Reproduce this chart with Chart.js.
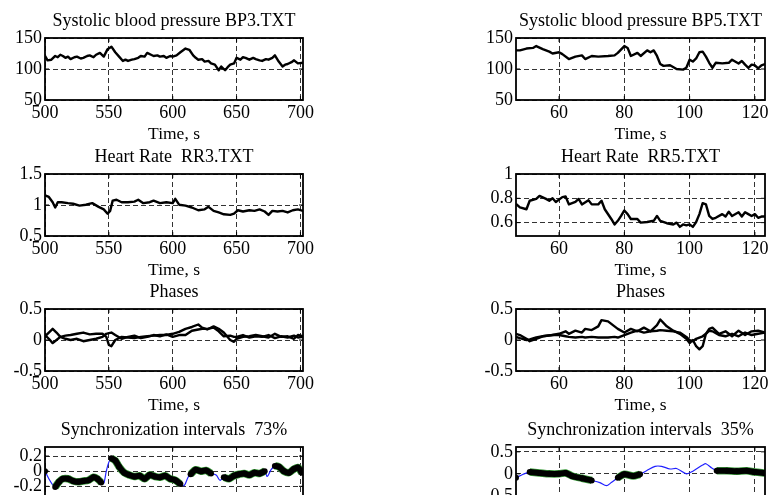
<!DOCTYPE html>
<html lang="en">
<head>
<meta charset="UTF-8">
<title>Blood pressure and heart rate synchronization</title>
<style>
  html, body { margin: 0; padding: 0; background: #fff; }
  body { width: 769px; height: 495px; overflow: hidden; position: relative; }
  canvas { position: absolute; }
</style>
</head>
<body>
<canvas id="bp3"></canvas>
<canvas id="bp5"></canvas>
<canvas id="rr3"></canvas>
<canvas id="rr5"></canvas>
<canvas id="ph3"></canvas>
<canvas id="ph5"></canvas>
<canvas id="sy3"></canvas>
<canvas id="sy5"></canvas>

<script src="https://cdn.jsdelivr.net/npm/chart.js"></script>
<script>
// ---------- data ----------
const leftTicksX = [500, 550, 600, 650, 700]
const rightTicksX = [60, 80, 100, 120]

// BP3.TXT
const bp3Time = [500,502,505,508,510,512,514,516,518,520,523,525,528,530,533,535,538,540,543,546,549,552,555,558,561,563,565,568,570,573,575,578,580,583,585,588,590,593,595,598,600,603,606,610,613,616,618,620,623,625,628,630,633,636,638,641,643,645,648,650,653,655,657,660,663,665,668,670,673,675,678,680,683,686,688,690,693,695,698,702]
const bp3Value = [121,114,115,121,119,123,121,118,120,116,119,120,117,118,121,122,119,123,126,120,132,136,127,120,113,115,113,115,116,118,121,120,126,123,121,122,120,121,118,121,120,122,127,133,131,122,118,115,116,112,113,109,107,98,104,98,103,107,109,118,115,119,118,115,118,116,114,113,116,115,118,122,112,104,107,108,111,114,109,110]

// BP5.TXT
const bp5Time = [46.8,48,50,52,53,55,57,58,60,61,63,65,67,68,70,72,75,77,78,80,81,82,84,85,87,88,89,90,91,92,94,96,98,99,100,101,102,103,104,105,106,107,108,110,112,113,115,116,117,118,119,120,121,122,123.1]
const bp5Value = [130,130,133,134,137,132,128,125,127,124,116,120,122,116,121,120,121,122,126,137,134,121,126,121,130,127,130,121,108,105,106,100,99,102,115,112,117,127,128,120,110,102,110,109,110,115,109,113,107,102,107,106,101,106,108]

// RR3.TXT
const rr3Time = [500,503,506,508,510,513,518,522,527,532,537,542,546,549,551,553,556,560,565,570,573,577,582,585,590,595,600,602,605,610,615,620,625,628,632,636,640,645,648,651,655,660,664,668,672,675,678,682,686,690,694,698,702]
const rr3Value = [1.156,1.13,1.045,0.96,1.045,1.045,1.03,1.02,0.99,1.005,1.03,0.97,0.93,0.86,0.905,1.07,1.085,1.045,1.045,1.055,1.085,1.03,1.045,1.07,1.03,1.045,1.03,1.10,1.005,0.99,0.96,0.915,0.93,0.97,0.905,0.88,0.85,0.84,0.86,0.915,0.895,0.915,0.905,0.93,0.895,0.84,0.905,0.895,0.905,0.88,0.915,0.93,0.905]

// RR5.TXT
const rr5Time = [46.8,48,50,51,53,54,56,57,58,59,61,62,63,65,66,67,69,70,72,73,74,76,77,78,79,80,81,82,84,85,87,89,90,91,93,95,96,97,98,99,100,101,102,103,104,105,106,107,108,110,111,112,113,115,116,117,118,119,120,121,122,123.1]
const rr5Value = [0.753,0.725,0.71,0.78,0.795,0.82,0.795,0.78,0.80,0.77,0.81,0.815,0.75,0.77,0.795,0.75,0.785,0.75,0.75,0.78,0.71,0.63,0.585,0.615,0.655,0.70,0.67,0.63,0.63,0.60,0.605,0.615,0.655,0.615,0.595,0.585,0.60,0.565,0.585,0.578,0.585,0.565,0.605,0.67,0.76,0.75,0.655,0.63,0.64,0.67,0.65,0.69,0.655,0.685,0.65,0.685,0.67,0.655,0.67,0.64,0.65,0.65]

// phases, record 3 (two curves)
const ph3Time = [500,503,506,509,512,516,520,525,530,535,540,545,548,550,552,555,560,565,570,575,580,585,590,595,600,605,610,615,620,623,627,632,636,640,645,648,650,655,660,665,670,675,680,685,690,695,698,702]
const ph3A = [0.06,0.12,0.18,0.12,0.05,0.07,0.08,0.10,0.12,0.09,0.10,0.10,0.05,-0.08,-0.10,0.0,0.05,0.04,0.03,0.05,0.06,0.07,0.08,0.08,0.10,0.13,0.18,0.21,0.25,0.20,0.17,0.22,0.18,0.12,0.0,-0.03,0.02,0.05,0.06,0.08,0.06,0.04,0.10,0.05,0.06,0.02,0.08,0.06]
const ph3B = [0.08,0.02,-0.05,0.0,0.05,0.02,0.0,0.02,-0.02,0.0,0.02,0.05,0.10,0.11,0.12,0.08,0.02,0.05,0.07,0.03,0.05,0.08,0.06,0.09,0.05,0.08,0.08,0.15,0.17,0.18,0.18,0.20,0.14,0.06,0.07,0.05,0.05,0.08,0.04,0.06,0.05,0.08,0.03,0.06,0.04,0.07,0.04,0.05]

// phases, record 5 (two curves)
const ph5Time = [46.8,48,50,51,53,55,58,60,62,63,65,67,68,70,72,73,75,77,78,80,82,84,86,88,90,91,93,95,97,99,100,101,102,103,104,105,106,107,109,111,113,115,117,119,121,123.1]
const ph5A = [0.1,0.08,0.02,-0.02,0.02,0.06,0.08,0.10,0.14,0.10,0.15,0.12,0.18,0.16,0.22,0.32,0.30,0.22,0.18,0.12,0.18,0.14,0.20,0.14,0.24,0.33,0.22,0.15,0.10,0.02,-0.05,0.0,-0.10,-0.15,-0.10,0.10,0.18,0.20,0.10,0.14,0.06,0.15,0.08,0.14,0.15,0.12]
const ph5B = [0.05,0.03,0.0,0.01,0.04,0.06,0.08,0.08,0.06,0.05,0.04,0.05,0.04,0.05,0.04,0.04,0.04,0.05,0.04,0.08,0.12,0.15,0.12,0.14,0.15,0.16,0.15,0.14,0.12,0.05,0.0,-0.02,0.02,0.04,0.06,0.10,0.15,0.14,0.08,0.06,0.10,0.06,0.12,0.08,0.10,0.12]

// synchronization, record 3 (flag 1 = synchronized)
const sync3Time = [500,503,506,508,511,514,518,522,526,530,534,538,541,544,546,548,550,552,555,558,562,566,570,574,578,582,586,590,594,598,602,606,609,612,614,618,622,626,630,634,637,640,644,648,652,656,660,664,668,672,674,677,680,683,687,691,695,698,701]
const sync3Value = [0.0,-0.1,-0.18,-0.21,-0.14,-0.1,-0.1,-0.13,-0.14,-0.13,-0.12,-0.08,-0.1,-0.15,-0.16,0.0,0.12,0.17,0.14,0.06,-0.02,-0.05,-0.07,-0.06,-0.1,-0.05,-0.07,-0.08,-0.06,-0.1,-0.12,-0.17,-0.19,-0.08,-0.04,0.02,0.0,0.01,-0.03,-0.05,-0.12,-0.08,-0.1,-0.06,-0.04,-0.03,-0.05,-0.02,-0.03,0.0,-0.07,0.02,0.07,0.06,0.0,-0.02,0.03,0.05,-0.02]
const sync3Flag = [1,0,0,1,1,1,1,1,1,1,1,1,1,1,0,0,0,1,1,1,1,1,1,1,1,1,1,1,1,1,1,1,0,0,1,1,1,1,1,0,0,1,1,1,1,1,1,1,1,1,0,0,1,1,1,1,1,1,1]

// synchronization, record 5
const sync5Time = [46.8,49,51,54,57,60,62,64,67,70,72.5,74.5,76,78,80,82.7,84.8,86.8,89.4,91.4,94,96,99,101,104,105,106.8,108.3,111.4,114.5,117.5,120,123.1]
const sync5Value = [-0.09,-0.01,0.04,0.02,0.0,0.0,0.02,-0.05,-0.1,-0.15,-0.2,-0.27,-0.2,-0.09,-0.01,-0.05,-0.01,0.07,0.17,0.17,0.11,0.12,0.0,0.06,0.2,0.23,0.13,0.07,0.07,0.06,0.07,0.04,0.02]
const sync5Flag = [1,0,1,1,1,1,1,1,1,1,0,0,0,1,1,1,1,0,0,0,0,0,0,0,0,0,0,1,1,1,1,1,1]

// ---------- layout ----------
const FONT = "'Liberation Serif', 'Times New Roman', serif"
const Y_W = 45, TITLE_H = 28, X_H = 45, PAD_R = 16, BOX_H = 62
const LEFT = { x: 45, w: 258 }, RIGHT = { x: 516, w: 249 }
const ROWS = [38, 174, 309, 447]

Chart.defaults.font.family = FONT
Chart.defaults.color = '#000'

const pts = (xs, ys) => xs.map((x, i) => ({ x: x, y: ys[i] }))
const line = (xs, ys) => ({ data: pts(xs, ys), borderColor: '#000', borderWidth: 2.4, pointRadius: 0, tension: 0, borderJoinStyle: 'round' })

// frame + little inward ticks like matlab
const frame = {
  id: 'frame',
  afterDatasetsDraw(chart) {
    const { ctx, chartArea: a, scales: { x, y } } = chart
    ctx.save()
    ctx.strokeStyle = '#000'
    ctx.lineWidth = 1
    ctx.beginPath()
    x.ticks.forEach(t => {
      const px = x.getPixelForValue(t.value)
      ctx.moveTo(px, a.bottom); ctx.lineTo(px, a.bottom - 4)
      ctx.moveTo(px, a.top); ctx.lineTo(px, a.top + 4)
    })
    y.ticks.forEach(t => {
      const py = y.getPixelForValue(t.value)
      if (py < a.top || py > a.bottom) return
      ctx.moveTo(a.left, py); ctx.lineTo(a.left + 4, py)
      ctx.moveTo(a.right, py); ctx.lineTo(a.right - 4, py)
    })
    ctx.stroke()
    ctx.lineWidth = 1.8
    ctx.strokeRect(a.left, a.top, a.right - a.left, a.bottom - a.top)
    ctx.restore()
  }
}

function panel(id, col, row, title, xr, yr, datasets) {
  const cv = document.getElementById(id)
  cv.width = Y_W + col.w + PAD_R
  cv.height = TITLE_H + BOX_H + X_H
  cv.style.left = (col.x - Y_W) + 'px'
  cv.style.top = (ROWS[row] - TITLE_H) + 'px'

  const axis = (r, isX) => ({
    type: 'linear',
    min: r.min, max: r.max,
    afterBuildTicks: s => { s.ticks = r.ticks.map(v => ({ value: v })) },
    afterFit: s => { if (isX) s.height = X_H; else s.width = Y_W },
    grid: { color: '#333', lineWidth: 1, drawTicks: false },
    border: { display: false, dash: [5, 3] },
    ticks: { color: '#000', font: { size: 18 }, padding: isX ? 2 : 3, maxRotation: 0, autoSkip: false, callback: v => String(v) },
    title: isX ? { display: true, text: 'Time, s', color: '#000', font: { size: 17.5 }, padding: 0 } : { display: false }
  })

  new Chart(cv, {
    type: 'line',
    data: { datasets: datasets },
    options: {
      responsive: false,
      animation: false,
      devicePixelRatio: 1,
      layout: { padding: { left: 0, top: 0, bottom: 0, right: PAD_R } },
      plugins: {
        legend: { display: false },
        tooltip: { enabled: false },
        title: { display: true, text: title, color: '#000', fullSize: false, font: { size: 18, weight: 'normal' }, padding: { top: 0, bottom: 6.4 } }
      },
      scales: { x: axis(xr, true), y: axis(yr, false) }
    },
    plugins: [frame]
  })
}

const xL = { min: 500, max: 702, ticks: leftTicksX }
const xR = { min: 46.8, max: 123.1, ticks: rightTicksX }

// synchronized parts: black beads with a green rim, blue thin line for the whole curve
function syncSets(xs, ys, flags) {
  const on = ys.map((v, i) => flags[i] ? v : null)
  return [
    { data: pts(xs, on), borderColor: '#000', borderWidth: 6, pointRadius: 3, pointBackgroundColor: '#000',
      pointBorderWidth: 0, spanGaps: false, tension: 0.3, order: 1 },
    { data: pts(xs, on), borderColor: '#3c9c3c', borderWidth: 7.5, pointRadius: 0, spanGaps: false, tension: 0.3, order: 2 },
    { data: pts(xs, ys), borderColor: '#2020ff', borderWidth: 1.2, pointRadius: 0, tension: 0.3, order: 3 }
  ]
}

panel('bp3', LEFT, 0, 'Systolic blood pressure BP3.TXT', xL, { min: 50, max: 150, ticks: [50, 100, 150] }, [line(bp3Time, bp3Value)])
panel('bp5', RIGHT, 0, 'Systolic blood pressure BP5.TXT', xR, { min: 50, max: 150, ticks: [50, 100, 150] }, [line(bp5Time, bp5Value)])
panel('rr3', LEFT, 1, 'Heart Rate  RR3.TXT', xL, { min: 0.5, max: 1.5, ticks: [0.5, 1, 1.5] }, [line(rr3Time, rr3Value)])
panel('rr5', RIGHT, 1, 'Heart Rate  RR5.TXT', xR, { min: 0.49, max: 1, ticks: [0.6, 0.8, 1] }, [line(rr5Time, rr5Value)])
panel('ph3', LEFT, 2, 'Phases', xL, { min: -0.5, max: 0.5, ticks: [-0.5, 0, 0.5] }, [line(ph3Time, ph3A), line(ph3Time, ph3B)])
panel('ph5', RIGHT, 2, 'Phases', xR, { min: -0.5, max: 0.5, ticks: [-0.5, 0, 0.5] }, [line(ph5Time, ph5A), line(ph5Time, ph5B)])
panel('sy3', LEFT, 3, 'Synchronization intervals  73%', xL, { min: -0.5, max: 0.32, ticks: [-0.2, 0, 0.2] }, syncSets(sync3Time, sync3Value, sync3Flag))
panel('sy5', RIGHT, 3, 'Synchronization intervals  35%', xR, { min: -0.8, max: 0.61, ticks: [-0.5, 0, 0.5] }, syncSets(sync5Time, sync5Value, sync5Flag))
</script>
</body>
</html>
